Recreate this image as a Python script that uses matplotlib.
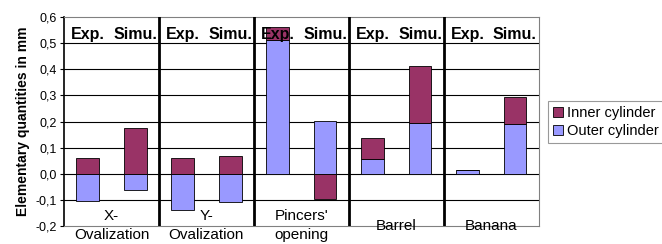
import matplotlib.pyplot as plt
import numpy as np

plt.rcParams['font.family'] = ['Liberation Sans', 'DejaVu Sans']

groups = ["X-\nOvalization", "Y-\nOvalization", "Pincers'\nopening", "Barrel", "Banana"]
bar_labels = ["Exp.", "Simu."]
inner = [0.06, 0.177, 0.06, 0.066, 0.05, -0.096, 0.078, 0.217, 0.0, 0.10]
outer = [-0.105, -0.064, -0.138, -0.108, 0.513, 0.203, 0.058, 0.195, 0.015, 0.192]
yticks = [-0.2, -0.1, 0.0, 0.1, 0.2, 0.3, 0.4, 0.5, 0.6]

c_inner = '#993366'
c_outer = '#9999FF'

fig = plt.figure(figsize=(6.62, 2.44), dpi=100)
ax = fig.add_axes([0.0967, 0.074, 0.717, 0.856])

x = np.array([i + d for i in range(len(groups)) for d in (-0.25, 0.25)])
inner = np.array(inner)
outer = np.array(outer)

# Excel-style stacking: positives and negatives stack separately, outer first
pos_base = np.zeros(len(x))
neg_base = np.zeros(len(x))
handles = {}
for name, vals, col in [('Outer cylinder', outer, c_outer), ('Inner cylinder', inner, c_inner)]:
    bottoms = np.where(vals >= 0, pos_base, neg_base)
    b = ax.bar(x, vals, 0.24, bottom=bottoms, color=col, edgecolor='black',
               linewidth=0.6, zorder=3)
    handles[name] = b
    pos_base = pos_base + np.where(vals >= 0, vals, 0)
    neg_base = neg_base + np.where(vals < 0, vals, 0)

ax.set_xlim(-0.5, len(groups) - 0.5)
ax.set_ylim(-0.2, 0.6)
ax.set_yticks(yticks)
ax.set_yticklabels([f"{v:.1f}".replace('.', ',') for v in yticks], fontsize=9)
ax.set_xticks([])
for v in yticks[1:-1]:
    ax.axhline(v, color='black', linewidth=0.8, zorder=1)
for i in range(1, len(groups)):
    ax.axvline(i - 0.5, color='black', linewidth=2, zorder=4)

for s in ['top', 'right']:
    ax.spines[s].set_color('#808080')
ax.spines['bottom'].set_color('#808080')
ax.spines['left'].set_linewidth(1.2)
ax.tick_params(axis='y', length=3, pad=2)

for xi, lab in zip(x, bar_labels * len(groups)):
    ax.text(xi, 0.532, lab, ha='center', va='center', fontsize=11.5,
            fontweight='bold', zorder=5)

for i, g in enumerate(groups):
    ax.text(i, -0.2, g, ha='center', va='center', fontsize=11,
            linespacing=1.45, zorder=5)

ax.set_ylabel('Elementary quantities in mm', fontsize=10, fontweight='bold', labelpad=4)

leg = fig.legend([handles['Inner cylinder'], handles['Outer cylinder']],
                 ['Inner cylinder', 'Outer cylinder'],
                 loc='center left', bbox_to_anchor=(0.828, 0.5), fontsize=10.5,
                 frameon=True, fancybox=False, edgecolor='#808080',
                 handlelength=0.7, handleheight=0.7, handletextpad=0.3,
                 borderpad=0.3, labelspacing=0.3, borderaxespad=0)
leg.get_frame().set_linewidth(0.8)

fig.savefig('out.png', dpi=100)
